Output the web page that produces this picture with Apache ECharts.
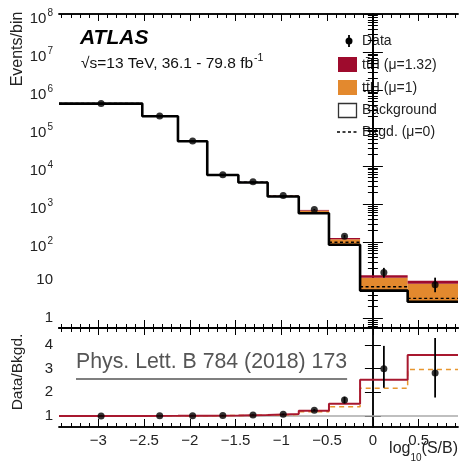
<!DOCTYPE html>
<html>
<head>
<meta charset="utf-8">
<script src="https://cdn.jsdelivr.net/npm/echarts@6/dist/echarts.min.js"></script>
<style>
  html, body { margin: 0; padding: 0; background: #fff; }
  #chart { width: 462px; height: 473px; }
</style>
</head>
<body>
<div id="chart"></div>
<script>
// ---- binned distribution in log10(S/B) ----
const binEdges = [-3.43, -2.52, -2.13, -1.81, -1.47, -1.15, -0.81, -0.48, -0.14, 0.38, 0.93];
const dataX = [-2.97, -2.33, -1.97, -1.64, -1.31, -0.98, -0.64, -0.31, 0.12, 0.68];
const background = [4.4e5, 2.05e5, 4.5e4, 5.8e3, 3.7e3, 1.58e3, 575, 85, 5.3, 2.7];
const backgroundMu0 = [4.42e5, 2.06e5, 4.53e4, 5.9e3, 3.75e3, 1.62e3, 595, 99, 6.7, 3.3];
const tthMu1 = [250, 500, 300, 80, 100, 90, 98, 33, 6.2, 5.3];
const tthMu132 = [330, 660, 400, 105, 130, 120, 127, 44, 8.1, 6.95];
const dataCounts = [4.4e5, 2.06e5, 4.55e4, 5.9e3, 3.85e3, 1.69e3, 715, 142, 15.9, 7.6];
const dataErrUp = [660, 450, 210, 77, 62, 41, 27, 12, 5.1, 4.0];
const dataErrDown = [660, 450, 210, 77, 62, 41, 27, 12, 4.3, 2.8];

// ---- axis ticks ----
const xTickValues = [-3, -2.5, -2, -1.5, -1, -0.5, 0, 0.5];
const xTickLabels = ['\u22123', '\u22122.5', '\u22122', '\u22121.5', '\u22121', '\u22120.5', '0', '0.5'];
const yTickValues = [1, 10, 1e2, 1e3, 1e4, 1e5, 1e6, 1e7, 1e8];
const ratioTickValues = [1, 2, 3, 4];

const X_MIN = -3.43, X_MAX = 0.93;
const Y_MIN = 0.55, Y_MAX = 1e8;
const R_MIN = 0.53, R_MAX = 4.72;

const FONT = "'Liberation Sans', Arial, Helvetica, sans-serif";
const RED = '#9e0b2d';
const ORANGE = '#e3892e';
const TXT = '#222';

// minor tick positions
const xMinor = [];
for (let i = -34; i <= 9; i++) if (i % 5 !== 0) xMinor.push(i / 10);
const yMinor = [0.6, 0.7, 0.8, 0.9];
for (let d = 0; d < 8; d++) for (let k = 2; k <= 9; k++) yMinor.push(k * Math.pow(10, d));

// derived per-bin quantities
const nBins = background.length;
const stepPts = vals => {
  const pts = [];
  for (let i = 0; i < vals.length; i++) {
    pts.push([binEdges[i], vals[i]]);
    pts.push([binEdges[i + 1], vals[i]]);
  }
  return pts;
};
const orangeBand = [], redBand = [], mu0Segs = [];
for (let i = 0; i < nBins; i++) {
  orangeBand.push([binEdges[i], binEdges[i + 1], background[i], background[i] + tthMu1[i]]);
  redBand.push([binEdges[i], binEdges[i + 1], background[i] + tthMu1[i], background[i] + tthMu132[i]]);
  mu0Segs.push([binEdges[i], binEdges[i + 1], backgroundMu0[i]]);
}
const dataPts = dataX.map((x, i) => [x, dataCounts[i]]);
const dataBars = dataX.map((x, i) => [x, dataCounts[i] - dataErrDown[i], dataCounts[i] + dataErrUp[i]]);
const ratioData = dataX.map((x, i) => [x, dataCounts[i] / background[i]]);
const ratioBars = dataX.map((x, i) => [x, (dataCounts[i] - dataErrDown[i]) / background[i], (dataCounts[i] + dataErrUp[i]) / background[i]]);
const ratioMu1 = background.map((b, i) => (b + tthMu1[i]) / b);
const ratioMu132 = background.map((b, i) => (b + tthMu132[i]) / b);

// ---- renderers ----
function bandItem(params, api) {
  const a = api.coord([api.value(0), api.value(3)]);
  const b = api.coord([api.value(1), api.value(2)]);
  return {
    type: 'rect',
    shape: { x: a[0], y: a[1], width: b[0] - a[0], height: b[1] - a[1] },
    style: { fill: api.visual('color') }
  };
}
function segItem(params, api) {
  const a = api.coord([api.value(0), api.value(2)]);
  const b = api.coord([api.value(1), api.value(2)]);
  return {
    type: 'line',
    shape: { x1: a[0], y1: a[1], x2: b[0], y2: b[1] },
    style: { stroke: '#000', lineWidth: 1.4, lineDash: [3, 2.5] }
  };
}
function errItem(params, api) {
  const a = api.coord([api.value(0), api.value(1)]);
  const b = api.coord([api.value(0), api.value(2)]);
  return {
    type: 'line',
    shape: { x1: a[0], y1: a[1], x2: b[0], y2: b[1] },
    style: { stroke: '#000', lineWidth: 1.8 }
  };
}

// ---- axes ----
const axisLine = { show: true, lineStyle: { color: '#000', width: 1.5 } };
function xAx(grid, pos, values, len, labels) {
  return {
    type: 'value', gridIndex: grid, position: pos, min: X_MIN, max: X_MAX,
    axisLine: axisLine, splitLine: { show: false },
    axisTick: { show: true, inside: true, length: len, customValues: values, lineStyle: { color: '#000', width: 1 } },
    axisLabel: labels ? {
      show: true, customValues: xTickValues, margin: 6, color: TXT, fontSize: 15, fontFamily: FONT,
      formatter: v => xTickLabels[xTickValues.indexOf(v)]
    } : { show: false }
  };
}
function yLogAx(pos, values, len, labels) {
  return {
    type: 'log', gridIndex: 0, position: pos, min: Y_MIN, max: Y_MAX, logBase: 10,
    axisLine: axisLine, splitLine: { show: false }, minorTick: { show: false },
    axisTick: { show: true, inside: true, length: len, customValues: values, lineStyle: { color: '#000', width: 1 } },
    axisLabel: labels ? {
      show: true, customValues: yTickValues, margin: 6, fontFamily: FONT,
      formatter: v => {
        const k = Math.round(Math.log10(v));
        if (k === 0) return '{p|1}';
        if (k === 1) return '{p|10}';
        return '{b|10}{s|' + k + '}';
      },
      rich: {
        p: { fontSize: 15, color: TXT, fontFamily: FONT },
        b: { fontSize: 15, color: TXT, fontFamily: FONT, lineHeight: 24, verticalAlign: 'bottom' },
        s: { fontSize: 10, color: TXT, fontFamily: FONT, lineHeight: 14, verticalAlign: 'top', padding: [6, 0, 0, 1] }
      }
    } : { show: false }
  };
}
function yRatioAx(pos, labels) {
  return {
    type: 'value', gridIndex: 1, position: pos, min: R_MIN, max: R_MAX,
    axisLine: axisLine, splitLine: { show: false },
    axisTick: { show: true, inside: true, length: 8, customValues: ratioTickValues, lineStyle: { color: '#000', width: 1 } },
    axisLabel: labels ? { show: true, customValues: ratioTickValues, margin: 6, color: TXT, fontSize: 15, fontFamily: FONT } : { show: false }
  };
}

// ---- overlay texts and legend ----
const graphics = [
  { type: 'text', x: 80, y: 38, style: { text: 'ATLAS', font: 'italic bold 21px ' + FONT, fill: '#000', verticalAlign: 'middle' } },
  { type: 'text', x: 81, y: 62, style: {
      text: '{n|\u221As=13 TeV, 36.1 - 79.8 fb}{s|-1}', verticalAlign: 'middle',
      rich: {
        n: { fontSize: 15.5, fontFamily: FONT, fill: '#111', lineHeight: 20, verticalAlign: 'bottom' },
        s: { fontSize: 10.5, fontFamily: FONT, fill: '#111', lineHeight: 12, verticalAlign: 'top', padding: [1, 0, 0, 1] }
      } } },
  // axis titles
  { type: 'text', x: 18, y: 49, rotation: Math.PI / 2, style: { text: 'Events/bin', font: '16px ' + FONT, fill: TXT, align: 'center', verticalAlign: 'middle' } },
  { type: 'text', x: 18, y: 372, rotation: Math.PI / 2, style: { text: 'Data/Bkgd.', font: '15.5px ' + FONT, fill: TXT, align: 'center', verticalAlign: 'middle' } },
  { type: 'text', x: 458, y: 452, style: {
      text: '{a|log}{b|10}{a|(S/B)}', align: 'right', verticalAlign: 'middle',
      rich: {
        a: { fontSize: 16, fontFamily: FONT, fill: TXT, lineHeight: 22, verticalAlign: 'top' },
        b: { fontSize: 10, fontFamily: FONT, fill: TXT, lineHeight: 12, verticalAlign: 'bottom' }
      } } },
  // legend
  { type: 'line', shape: { x1: 349, y1: 35, x2: 349, y2: 47 }, style: { stroke: '#000', lineWidth: 1.8 } },
  { type: 'circle', shape: { cx: 349, cy: 41, r: 3.5 }, style: { fill: '#000' } },
  { type: 'text', x: 362, y: 41, style: { text: 'Data', font: '14px ' + FONT, fill: TXT, verticalAlign: 'middle' } },
  { type: 'rect', shape: { x: 338, y: 57, width: 19, height: 15 }, style: { fill: RED } },
  { type: 'text', x: 362, y: 65, style: { text: 'tt\u0304H (\u03BC=1.32)', font: '14px ' + FONT, fill: TXT, verticalAlign: 'middle' } },
  { type: 'rect', shape: { x: 338, y: 80, width: 19, height: 15 }, style: { fill: ORANGE } },
  { type: 'text', x: 362, y: 88, style: { text: 'tt\u0304H (\u03BC=1)', font: '14px ' + FONT, fill: TXT, verticalAlign: 'middle' } },
  { type: 'rect', shape: { x: 338.5, y: 103.5, width: 18, height: 14 }, style: { fill: '#fff', stroke: '#333', lineWidth: 1.3 } },
  { type: 'text', x: 362, y: 110, style: { text: 'Background', font: '14px ' + FONT, fill: TXT, verticalAlign: 'middle' } },
  { type: 'line', shape: { x1: 337, y1: 132, x2: 358, y2: 132 }, style: { stroke: '#000', lineWidth: 1.4, lineDash: [3, 2.5] } },
  { type: 'text', x: 362, y: 132, style: { text: 'Bkgd. (\u03BC=0)', font: '14px ' + FONT, fill: TXT, verticalAlign: 'middle' } }
];

// journal reference with underline
const refText = 'Phys. Lett. B 784 (2018) 173';
const refFont = '21.3px ' + FONT;
const ctx = document.createElement('canvas').getContext('2d');
ctx.font = refFont;
const refW = ctx.measureText(refText).width;
graphics.push({ type: 'text', x: 76, y: 362, z: 10, style: { text: refText, font: refFont, fill: '#555', verticalAlign: 'middle' } });
graphics.push({ type: 'line', z: 10, shape: { x1: 76, y1: 379, x2: 76 + refW, y2: 379 }, style: { stroke: '#555', lineWidth: 1.5 } });

const option = {
  backgroundColor: '#fff',
  animation: false,
  grid: [
    { left: 59, right: 4, top: 14, height: 314 },
    { left: 59, right: 4, top: 328, height: 99 }
  ],
  xAxis: [
    xAx(0, 'bottom', xTickValues, 8, false),
    xAx(0, 'top', xTickValues, 7, false),
    xAx(0, 'bottom', xMinor, 4, false),
    xAx(0, 'top', xMinor, 4, false),
    xAx(1, 'bottom', xTickValues, 8, true),
    xAx(1, 'top', xTickValues, 7, false),
    xAx(1, 'bottom', xMinor, 4, false),
    xAx(1, 'top', xMinor, 4, false)
  ],
  yAxis: [
    yLogAx('left', yTickValues, 10, true),
    yLogAx('right', yTickValues, 10, false),
    yLogAx('left', yMinor, 5, false),
    yLogAx('right', yMinor, 5, false),
    yRatioAx('left', true),
    yRatioAx('right', false)
  ],
  graphic: graphics,
  series: [
    { name: 'ttH (mu=1)', type: 'custom', xAxisIndex: 0, yAxisIndex: 0, renderItem: bandItem, data: orangeBand, itemStyle: { color: ORANGE }, z: 2, clip: true },
    { name: 'ttH (mu=1.32)', type: 'custom', xAxisIndex: 0, yAxisIndex: 0, renderItem: bandItem, data: redBand, itemStyle: { color: RED }, z: 2, clip: true },
    { name: 'Background', type: 'line', xAxisIndex: 0, yAxisIndex: 0, data: stepPts(background), symbol: 'none', z: 3,
      lineStyle: { color: '#000', width: 2.6 }, clip: true },
    { name: 'Bkgd. (mu=0)', type: 'custom', xAxisIndex: 0, yAxisIndex: 0, renderItem: segItem, data: mu0Segs, z: 4, clip: true },
    { name: 'Data err', type: 'custom', xAxisIndex: 0, yAxisIndex: 0, renderItem: errItem, data: dataBars, z: 5 },
    { name: 'Data', type: 'scatter', xAxisIndex: 0, yAxisIndex: 0, data: dataPts, symbol: 'circle', symbolSize: 7,
      itemStyle: { color: '#000' }, z: 6 },
    // ratio panel
    { name: 'Ratio mu=1', type: 'line', xAxisIndex: 4, yAxisIndex: 4, data: stepPts(ratioMu1), symbol: 'none', z: 3,
      lineStyle: { color: '#e8962e', width: 1.5, type: [5, 4] }, clip: true },
    { name: 'Ratio mu=1.32', type: 'line', xAxisIndex: 4, yAxisIndex: 4, data: stepPts(ratioMu132), symbol: 'none', z: 4,
      lineStyle: { color: '#a8182f', width: 2 }, clip: true,
      markLine: { silent: true, symbol: 'none', label: { show: false }, z: 1,
        lineStyle: { color: '#aaa', type: 'solid', width: 1.5 }, data: [{ yAxis: 1 }] } },
    { name: 'Ratio err', type: 'custom', xAxisIndex: 4, yAxisIndex: 4, renderItem: errItem, data: ratioBars, z: 5 },
    { name: 'Ratio data', type: 'scatter', xAxisIndex: 4, yAxisIndex: 4, data: ratioData, symbol: 'circle', symbolSize: 7,
      itemStyle: { color: '#000' }, z: 6 }
  ]
};

const chart = echarts.init(document.getElementById('chart'), null, { renderer: 'canvas' });
chart.setOption(option);
</script>
</body>
</html>
